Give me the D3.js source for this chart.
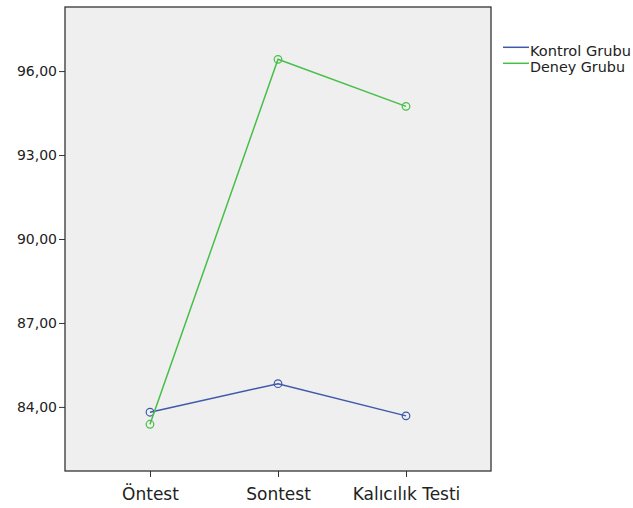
<!DOCTYPE html>
<html><head><meta charset="utf-8">
<script src="https://cdn.jsdelivr.net/npm/d3@7"></script>
<style>body{margin:0;background:#fff;} svg{display:block;}</style>
</head><body>
<svg id="c" width="633" height="508"></svg>
<script>
const categories = ["Öntest", "Sontest", "Kalıcılık Testi"];
const kontrol = [83.81, 84.83, 83.68];
const deney = [83.38, 96.42, 94.74];
const seriesNames = ["Kontrol Grubu", "Deney Grubu"];
const yTicks = [84, 87, 90, 93, 96];

const colors = ["#3e58ac", "#46bf46"];
const svg = d3.select("#c");
const L = 65, R = 491, T = 7, B = 471;

const x = d3.scalePoint().domain(categories).range([L, R]).padding(0.664);
const y = d3.scaleLinear().domain([81.71, 98.29]).range([B, T]);

svg.append("rect").attr("x", L).attr("y", T).attr("width", R - L).attr("height", B - T)
  .attr("fill", "#efefef").attr("stroke", "#333").attr("stroke-width", 1.3);

const fmt = v => d3.format(".2f")(v).replace(".", ",");
const ya = svg.append("g").attr("transform", `translate(${L},0)`)
  .call(d3.axisLeft(y).tickValues(yTicks).tickFormat(fmt).tickSize(6).tickSizeOuter(0));
ya.select(".domain").remove();
ya.selectAll("line").attr("stroke", "#333");
ya.selectAll("text").attr("font-family", "DejaVu Sans").attr("font-size", 14).attr("fill", "#222").attr("x", -8);

const xa = svg.append("g").attr("transform", `translate(0,${B})`)
  .call(d3.axisBottom(x).tickSize(6).tickSizeOuter(0));
xa.select(".domain").remove();
xa.selectAll("line").attr("stroke", "#333");
xa.selectAll("text").attr("font-family", "DejaVu Sans").attr("font-size", 17).attr("fill", "#222").attr("dy", "1.15em");

const data = [kontrol, deney];
const line = d3.line().x((d, i) => x(categories[i])).y(d => y(d));
data.forEach((s, k) => {
  svg.append("path").attr("d", line(s)).attr("fill", "none").attr("stroke", colors[k]).attr("stroke-width", 1.5);
  svg.selectAll(null).data(s).enter().append("circle")
    .attr("cx", (d, i) => x(categories[i])).attr("cy", d => y(d)).attr("r", 3.8)
    .attr("fill", "none").attr("stroke", colors[k]).attr("stroke-width", 1.2);
});

const lg = svg.append("g");
seriesNames.forEach((n, k) => {
  const yy = 47.3 + k * 16;
  lg.append("line").attr("x1", 503).attr("x2", 529).attr("y1", yy).attr("y2", yy)
    .attr("stroke", colors[k]).attr("stroke-width", 1.5);
  lg.append("text").attr("x", 530).attr("y", yy + 8.7).text(n)
    .attr("font-family", "DejaVu Sans").attr("font-size", 13.5).attr("fill", "#222")
    .attr("textLength", k === 0 ? 101 : 95).attr("lengthAdjust", "spacingAndGlyphs");
});
</script>
</body></html>
